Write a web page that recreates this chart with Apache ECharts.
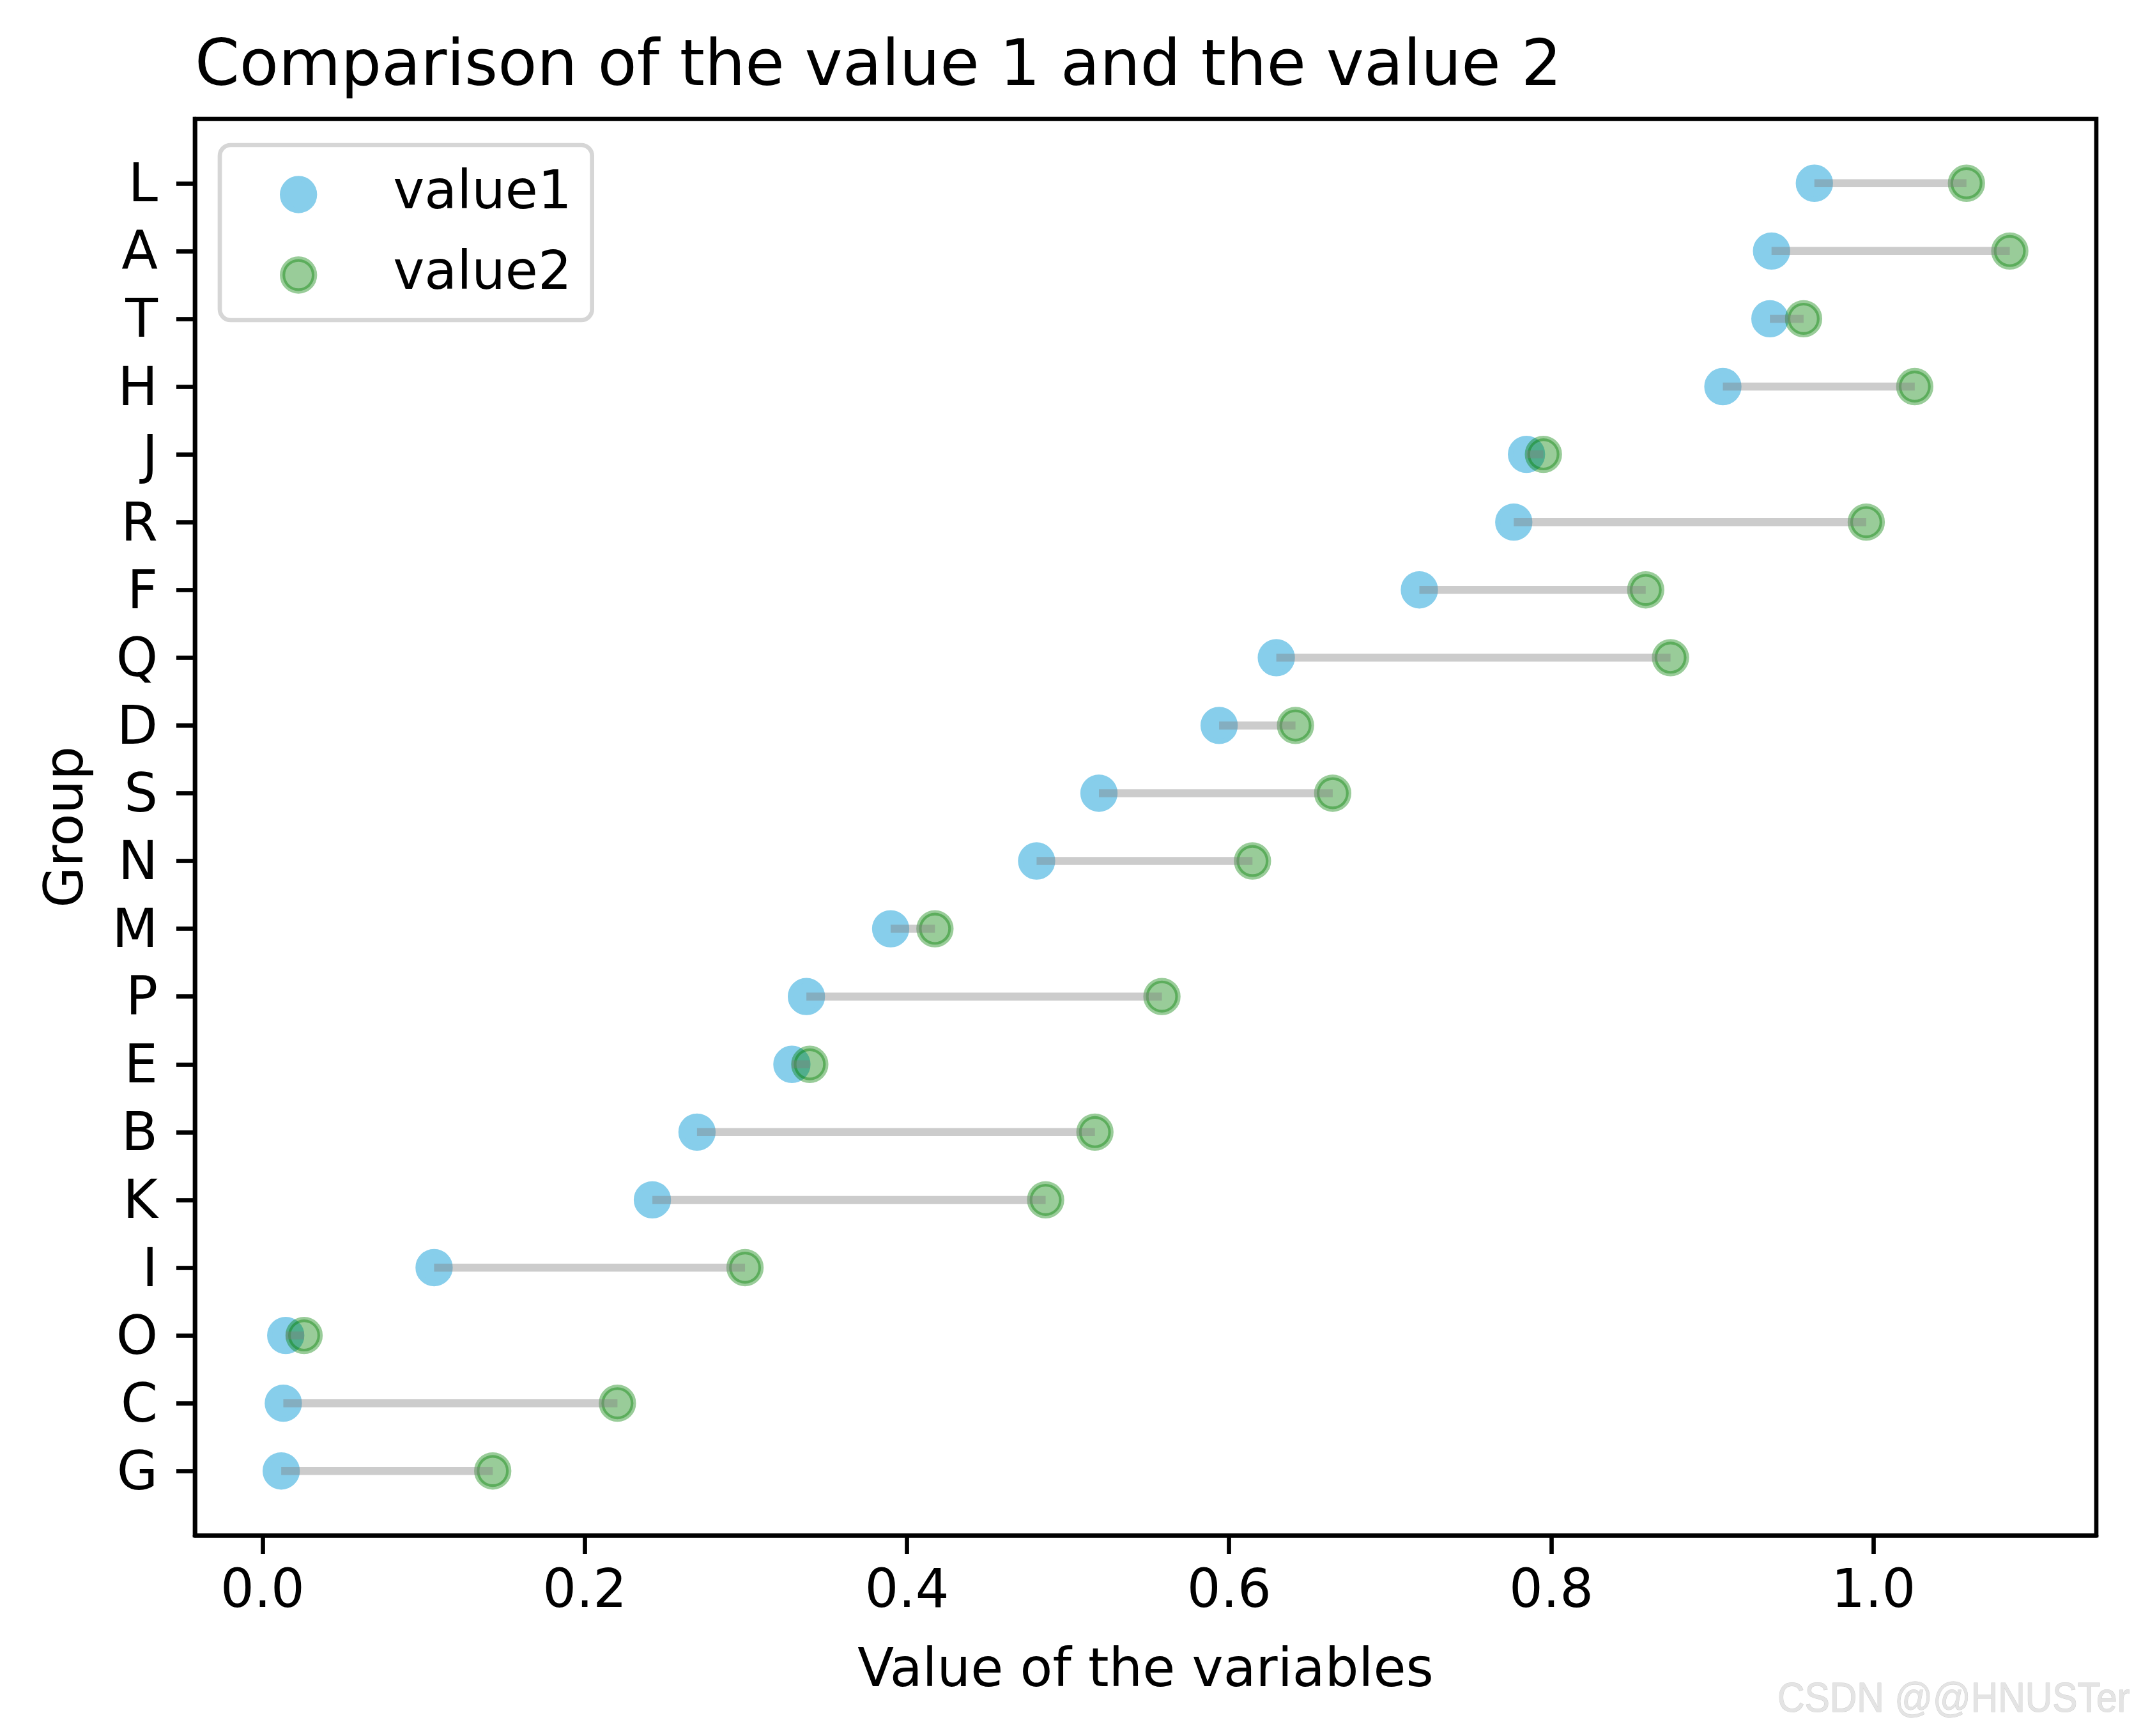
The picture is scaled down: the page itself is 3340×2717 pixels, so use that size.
<!DOCTYPE html>
<html>
<head>
<meta charset="utf-8">
<script src="https://cdn.jsdelivr.net/npm/echarts@6/dist/echarts.min.js"></script>
<style>
  html, body { margin: 0; padding: 0; background: #fff; }
  #chart { width: 3340px; height: 2717px; }
</style>
</head>
<body>
<div id="chart"></div>
<script>
// groups listed bottom -> top
var groups = ['G', 'C', 'O', 'I', 'K', 'B', 'E', 'P', 'M', 'N', 'S', 'D', 'Q', 'F', 'R', 'J', 'H', 'T', 'A', 'L'];
var value1 = [0.0116, 0.0129, 0.0144, 0.1065, 0.2420, 0.2697, 0.3286, 0.3376, 0.3899, 0.4805,
              0.5192, 0.5938, 0.6293, 0.7181, 0.7767, 0.7846, 0.9065, 0.9357, 0.9367, 0.9633];
var value2 = [0.1429, 0.2203, 0.0258, 0.2995, 0.4861, 0.5167, 0.3397, 0.5583, 0.4174, 0.6145,
              0.6643, 0.6412, 0.8740, 0.8586, 0.9955, 0.7951, 1.0256, 0.9566, 1.0846, 1.0577];
var xTicks = [0, 0.2, 0.4, 0.6, 0.8, 1.0];
var yTicks = groups.map(function (g, i) { return i; });

(function () {
  var myChart = echarts.init(document.getElementById('chart'));
  var font = 'DejaVu Sans';
  var lw = 6.67;       // spine / tick width
  var skyblue = '#87ceeb';
  var green = 'rgba(0,128,0,0.4)';

  var option = {
    animation: false,
    backgroundColor: '#fff',
    title: {
      text: 'Comparison of the value 1 and the value 2',
      left: 305,
      top: 57,
      padding: 0,
      textStyle: { fontFamily: font, fontSize: 100, fontWeight: 'normal', color: '#000' }
    },
    legend: {
      orient: 'vertical',
      left: 344,
      top: 227,
      padding: [36, 32, 29, 94],
      itemWidth: 50,
      itemHeight: 50,
      itemGap: 43,
      icon: 'circle',
      backgroundColor: 'rgba(255,255,255,0.8)',
      borderColor: '#d6d6d6',
      borderWidth: lw,
      borderRadius: 17,
      textStyle: { fontFamily: font, fontSize: 83, color: '#000', padding: [0, 0, 0, 118] },
      data: [
        { name: 'value1', itemStyle: { color: skyblue, borderColor: skyblue, borderWidth: 8.33 } },
        { name: 'value2', itemStyle: { color: green, borderColor: green, borderWidth: 8.33 } }
      ]
    },
    grid: {
      left: 305, right: 59, top: 186, bottom: 314,
      show: true, borderColor: '#000', borderWidth: lw,
      containLabel: false, outerBoundsMode: 'none'
    },
    xAxis: {
      type: 'value',
      min: -0.042,
      max: 1.1383,
      name: 'Value of the variables',
      nameLocation: 'middle',
      nameGap: 173,
      nameTextStyle: { fontFamily: font, fontSize: 83, color: '#000' },
      axisLine: { show: true, onZero: false, lineStyle: { color: '#000', width: lw } },
      axisTick: { show: true, length: 29, customValues: xTicks, lineStyle: { color: '#000', width: lw } },
      axisLabel: {
        customValues: xTicks, margin: 49,
        fontFamily: font, fontSize: 83, color: '#000',
        formatter: function (v) { return v.toFixed(1); }
      },
      splitLine: { show: false }
    },
    yAxis: {
      type: 'value',
      min: -0.95,
      max: 19.95,
      name: 'Group',
      nameLocation: 'middle',
      nameGap: 156,
      nameRotate: 90,
      nameTextStyle: { fontFamily: font, fontSize: 83, color: '#000' },
      axisLine: { show: true, onZero: false, lineStyle: { color: '#000', width: lw } },
      axisTick: { show: true, length: 29, customValues: yTicks, lineStyle: { color: '#000', width: lw } },
      axisLabel: {
        customValues: yTicks, margin: 58,
        fontFamily: font, fontSize: 83, color: '#000',
        formatter: function (v) { return '{g|' + groups[Math.round(v)] + '}'; },
        rich: {
          g: { fontFamily: font, fontSize: 83, color: '#000', padding: [14, 0, 0, 0] }
        }
      },
      splitLine: { show: false }
    },
    graphic: [{
      type: 'text',
      x: 2782,
      y: 2661,
      scaleX: 0.92,
      silent: true,
      style: {
        text: 'CSDN @@HNUSTer',
        font: '64px "Liberation Sans"',
        fill: '#e4e4e4',
        stroke: '#cdcdcd',
        lineWidth: 1,
        align: 'left',
        verticalAlign: 'middle'
      }
    }],
    series: [
      {
        name: 'value1',
        type: 'scatter',
        z: 2,
        symbol: 'circle',
        symbolSize: 50,
        itemStyle: { color: skyblue, borderColor: skyblue, borderWidth: 8.33, opacity: 1 },
        emphasis: { disabled: true },
        data: groups.map(function (g, i) { return [value1[i], i]; })
      },
      {
        name: 'value2',
        type: 'scatter',
        z: 2,
        symbol: 'circle',
        symbolSize: 50,
        itemStyle: { color: green, borderColor: green, borderWidth: 8.33, opacity: 1 },
        emphasis: { disabled: true },
        data: groups.map(function (g, i) { return [value2[i], i]; })
      },
      {
        name: 'range',
        type: 'custom',
        z: 3,
        encode: { x: [0, 1], y: 2 },
        data: groups.map(function (g, i) { return [value1[i], value2[i], i]; }),
        renderItem: function (params, api) {
          var a = api.coord([api.value(0), api.value(2)]);
          var b = api.coord([api.value(1), api.value(2)]);
          return {
            type: 'line',
            shape: { x1: a[0], y1: a[1], x2: b[0], y2: b[1] },
            style: { stroke: 'rgba(128,128,128,0.4)', lineWidth: 12.5, lineCap: 'butt' }
          };
        }
      }
    ]
  };
  myChart.setOption(option);
})();
</script>
</body>
</html>
